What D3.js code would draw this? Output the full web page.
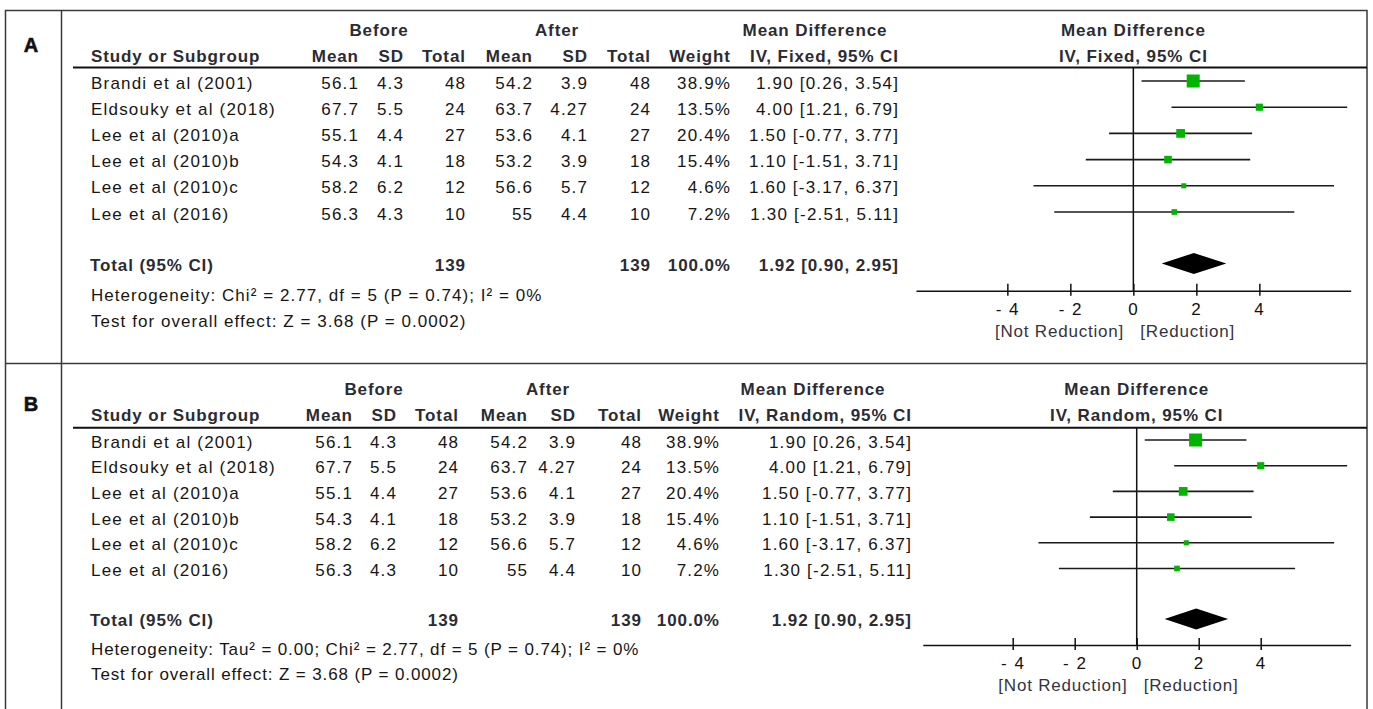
<!DOCTYPE html>
<html>
<head>
<meta charset="utf-8">
<script src="https://cdn.jsdelivr.net/npm/d3@7"></script>
<style>
  html, body { margin: 0; padding: 0; background: #fff; }
  svg { display: block; }
  text { font-family: "Liberation Sans", Arial, sans-serif; }
</style>
</head>
<body>
<svg id="chart" width="1373" height="709"></svg>
<script>
// ---- Study data (same studies in both panels) ----
const studies = ["Brandi et al (2001)", "Eldsouky et al (2018)", "Lee et al (2010)a",
                 "Lee et al (2010)b", "Lee et al (2010)c", "Lee et al (2016)"];
const beforeMean = ["56.1", "67.7", "55.1", "54.3", "58.2", "56.3"];
const beforeSD   = ["4.3", "5.5", "4.4", "4.1", "6.2", "4.3"];
const beforeN    = [48, 24, 27, 18, 12, 10];
const afterMean  = ["54.2", "63.7", "53.6", "53.2", "56.6", "55"];
const afterSD    = ["3.9", "4.27", "4.1", "3.9", "5.7", "4.4"];
const afterN     = [48, 24, 27, 18, 12, 10];
const weights    = [38.9, 13.5, 20.4, 15.4, 4.6, 7.2];
const meanDiff   = [1.90, 4.00, 1.50, 1.10, 1.60, 1.30];
const ciLower    = [0.26, 1.21, -0.77, -1.51, -3.17, -2.51];
const ciUpper    = [3.54, 6.79, 3.77, 3.71, 6.37, 5.11];

// pooled estimate
const totalBeforeN = 139;
const totalAfterN  = 139;
const totalWeight  = 100.0;
const totalMD      = 1.92;
const totalLower   = 0.90;
const totalUpper   = 2.95;

const axisTicks = [-4, -2, 0, 2, 4];
const axisDomain = [-6.9, 6.9];

const panels = [
  {
    label: "A",
    method: "IV, Fixed, 95% CI",
    heterogeneity: "Heterogeneity: Chi\u00B2 = 2.77, df = 5 (P = 0.74); I\u00B2 = 0%",
    overall: "Test for overall effect: Z = 3.68 (P = 0.0002)",
    layout: {
      labelY: 52, hdr1: 36, hdr2: 62, rule: 67.5, row0: 81, rowStep: 26.2,
      totalY: 263.5, totalText: 271, hetY: 301, testY: 327, noteLs: 1.05,
      axisY: 290.7, tickY: 315, dirY: 337, plot: [916, 1350.7],
      before: 379, after: 557, mdHead: 815,
      cols: { m1: 358, s1: 403, n1: 465, m2: 532, s2: 587, n2: 650, w: 730, ci: 898 }
    }
  },
  {
    label: "B",
    method: "IV, Random, 95% CI",
    heterogeneity: "Heterogeneity: Tau\u00B2 = 0.00; Chi\u00B2 = 2.77, df = 5 (P = 0.74); I\u00B2 = 0%",
    overall: "Test for overall effect: Z = 3.68 (P = 0.0002)",
    layout: {
      labelY: 411, hdr1: 395, hdr2: 421, rule: 427.7, row0: 440, rowStep: 25.7,
      totalY: 619, totalText: 626, hetY: 655, testY: 680, noteLs: 0.88,
      axisY: 645, tickY: 669, dirY: 691, plot: [922.8, 1350.6],
      before: 374, after: 548, mdHead: 813,
      cols: { m1: 352, s1: 396, n1: 458, m2: 527, s2: 575, n2: 641, w: 719, ci: 911 }
    }
  }
];

const svg = d3.select("#chart");
const W = 1373;
const frameColor = "#3a3a3a";
const green = "#00b400";
const headColor = "#2b2b33";
const bodyColor = "#161616";

svg.append("rect").attr("width", W).attr("height", 709).attr("fill", "#fff");

// outer frame, label column divider and panel separator
svg.append("rect")
  .attr("x", 5.5).attr("y", 10.5).attr("width", 1361.5).attr("height", 710)
  .attr("fill", "none").attr("stroke", frameColor).attr("stroke-width", 1.5);
svg.append("line").attr("x1", 61.5).attr("x2", 61.5).attr("y1", 10).attr("y2", 720)
  .attr("stroke", frameColor).attr("stroke-width", 1.5);
svg.append("line").attr("x1", 5).attr("x2", 1367).attr("y1", 363.5).attr("y2", 363.5)
  .attr("stroke", frameColor).attr("stroke-width", 1.5);

// plain hyphen for negatives, as in the printed table
const fmt2 = v => v.toFixed(2);
const ciText = (m, lo, hi) => `${fmt2(m)} [${fmt2(lo)}, ${fmt2(hi)}]`;

function txt(g, s, x, y, opts = {}) {
  const bold = !!opts.bold;
  const ls = opts.ls != null ? opts.ls : (bold ? 0.9 : 1.2);
  const anchor = opts.anchor || "start";
  return g.append("text")
    .attr("x", anchor === "end" ? x + ls : x)
    .attr("y", y)
    .attr("text-anchor", anchor)
    .attr("font-size", opts.size || 17)
    .attr("font-weight", bold ? "bold" : "normal")
    .attr("letter-spacing", ls)
    .attr("fill", opts.fill || (bold ? headColor : bodyColor))
    .text(s);
}

panels.forEach(p => {
  const L = p.layout, c = L.cols;
  const g = svg.append("g");

  const x = d3.scaleLinear().domain(axisDomain).range(L.plot);
  const rowY = d3.scaleLinear().domain([0, 1]).range([L.row0, L.row0 + L.rowStep]);
  const boxSize = d3.scaleLinear().domain([0, d3.max(weights)]).range([4, 13]);

  // panel letter
  g.append("text").attr("x", 31).attr("y", L.labelY).attr("text-anchor", "middle")
    .attr("font-size", 20).attr("font-weight", "bold").attr("fill", "#111")
    .attr("stroke", "#111").attr("stroke-width", 0.6).text(p.label);

  // column headers
  txt(g, "Before", L.before, L.hdr1, { bold: true, anchor: "middle" });
  txt(g, "After", L.after, L.hdr1, { bold: true, anchor: "middle" });
  txt(g, "Mean Difference", L.mdHead, L.hdr1, { bold: true, anchor: "middle" });
  txt(g, "Mean Difference", x(0), L.hdr1, { bold: true, anchor: "middle" });
  txt(g, "Study or Subgroup", 91, L.hdr2, { bold: true });
  [["Mean", c.m1], ["SD", c.s1], ["Total", c.n1], ["Mean", c.m2], ["SD", c.s2],
   ["Total", c.n2], ["Weight", c.w], [p.method, c.ci]].forEach(([s, cx]) =>
    txt(g, s, cx, L.hdr2, { bold: true, anchor: "end" }));
  txt(g, p.method, x(0), L.hdr2, { bold: true, anchor: "middle" });

  g.append("line").attr("x1", 73).attr("x2", 1367).attr("y1", L.rule).attr("y2", L.rule)
    .attr("stroke", "#111").attr("stroke-width", 2);

  // study rows
  studies.forEach((s, i) => {
    const ty = rowY(i) + 7.5;
    txt(g, s, 91, ty);
    txt(g, beforeMean[i], c.m1, ty, { anchor: "end" });
    txt(g, beforeSD[i], c.s1, ty, { anchor: "end" });
    txt(g, String(beforeN[i]), c.n1, ty, { anchor: "end" });
    txt(g, afterMean[i], c.m2, ty, { anchor: "end" });
    txt(g, afterSD[i], c.s2, ty, { anchor: "end" });
    txt(g, String(afterN[i]), c.n2, ty, { anchor: "end" });
    txt(g, weights[i].toFixed(1) + "%", c.w, ty, { anchor: "end" });
    txt(g, ciText(meanDiff[i], ciLower[i], ciUpper[i]), c.ci, ty, { anchor: "end" });
  });

  // total row
  txt(g, "Total (95% CI)", 90, L.totalText, { bold: true });
  txt(g, String(totalBeforeN), c.n1, L.totalText, { bold: true, anchor: "end" });
  txt(g, String(totalAfterN), c.n2, L.totalText, { bold: true, anchor: "end" });
  txt(g, totalWeight.toFixed(1) + "%", c.w, L.totalText, { bold: true, anchor: "end" });
  txt(g, ciText(totalMD, totalLower, totalUpper), c.ci, L.totalText, { bold: true, anchor: "end" });
  txt(g, p.heterogeneity, 91, L.hetY, { ls: L.noteLs });
  txt(g, p.overall, 91, L.testY, { ls: L.noteLs });

  // line of no effect
  g.append("line").attr("x1", x(0)).attr("x2", x(0)).attr("y1", L.rule).attr("y2", L.axisY)
    .attr("stroke", "#111").attr("stroke-width", 1.5);

  // confidence intervals and weighted squares
  g.selectAll("line.ci").data(studies).join("line").attr("class", "ci")
    .attr("x1", (d, i) => x(ciLower[i])).attr("x2", (d, i) => x(ciUpper[i]))
    .attr("y1", (d, i) => rowY(i)).attr("y2", (d, i) => rowY(i))
    .attr("stroke", "#1a1a1a").attr("stroke-width", 1.6);
  g.selectAll("rect.box").data(studies).join("rect").attr("class", "box")
    .attr("x", (d, i) => x(meanDiff[i]) - boxSize(weights[i]) / 2)
    .attr("y", (d, i) => rowY(i) - boxSize(weights[i]) / 2)
    .attr("width", (d, i) => boxSize(weights[i]))
    .attr("height", (d, i) => boxSize(weights[i]))
    .attr("fill", green);

  // pooled diamond
  const dh = 10.5;
  g.append("path")
    .attr("d", `M${x(totalLower)},${L.totalY} L${x(totalMD)},${L.totalY - dh} ` +
               `L${x(totalUpper)},${L.totalY} L${x(totalMD)},${L.totalY + dh} Z`)
    .attr("fill", "#000");

  // axis
  const ax = g.append("g").attr("transform", `translate(0,${L.axisY})`)
    .call(d3.axisBottom(x).tickValues(axisTicks).tickSizeInner(5).tickSizeOuter(0));
  ax.select(".domain").attr("stroke", "#111").attr("stroke-width", 1.5);
  ax.selectAll(".tick line").attr("y1", -7).attr("y2", 5)
    .attr("stroke", "#111").attr("stroke-width", 1.5);
  ax.selectAll(".tick text").attr("y", L.tickY - L.axisY).attr("dy", 0)
    .attr("font-size", 17).attr("letter-spacing", 1.5).attr("fill", "#111")
    .attr("font-family", "'Liberation Sans', Arial, sans-serif")
    .text(d => d < 0 ? "- " + Math.abs(d) : String(d));

  txt(g, "[Not Reduction]", x(0) - 10, L.dirY, { anchor: "end", fill: "#34343f", ls: 0.8 });
  txt(g, "[Reduction]", x(0) + 7, L.dirY, { fill: "#34343f", ls: 0.8 });
});
</script>
</body>
</html>
